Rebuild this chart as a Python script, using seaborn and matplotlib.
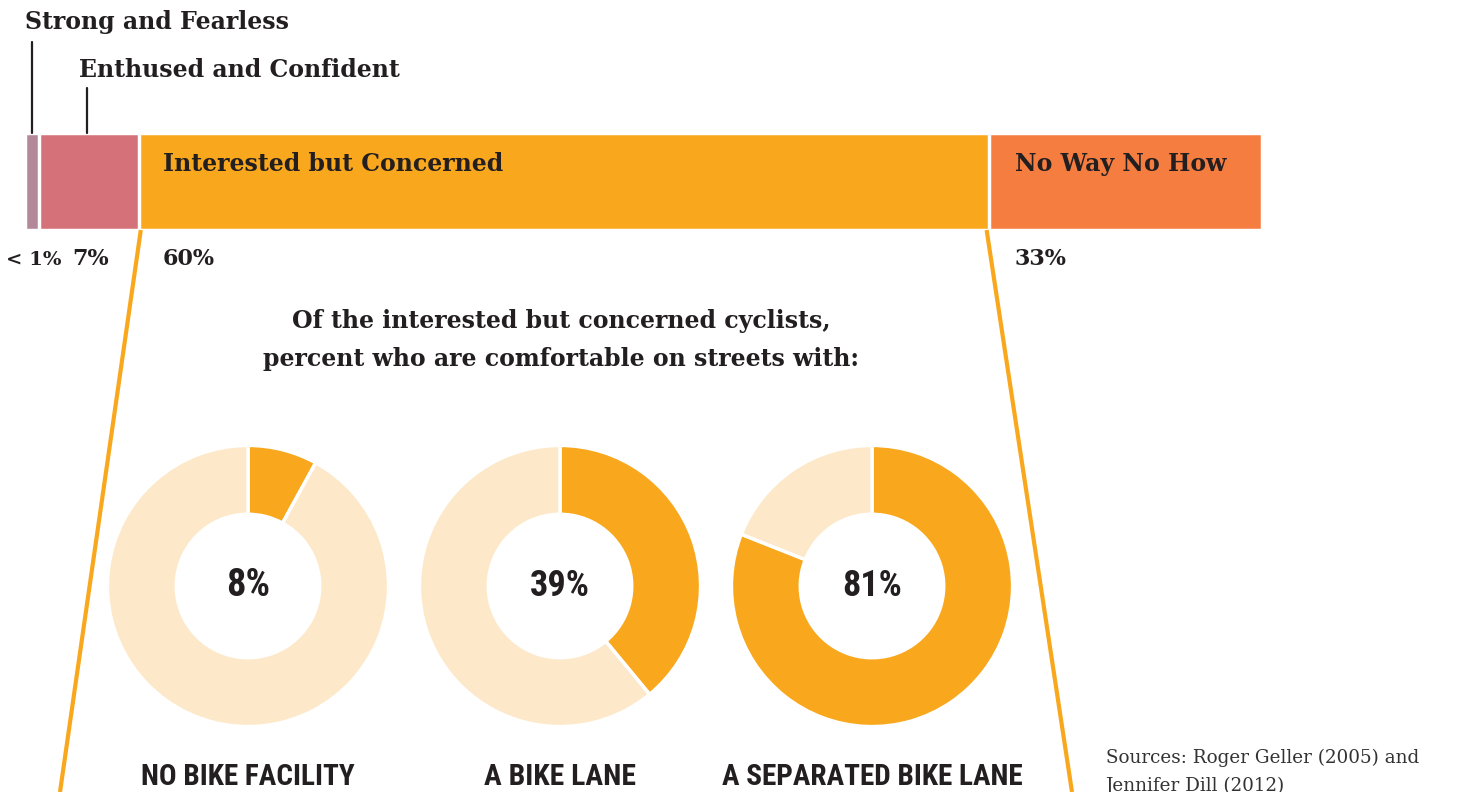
import numpy as np
import pandas as pd
import matplotlib
matplotlib.use("Agg")
import matplotlib.pyplot as plt
import seaborn as sns

# four cyclist types, top bar
groups = ["Strong and Fearless", "Enthused and Confident",
          "Interested but Concerned", "No Way No How"]
group_pct = ["< 1%", "7%", "60%", "33%"]
# widths as drawn in the graphic (the source is not to scale)
bar_share = [1.1, 8.1, 68.7, 22.1]
group_colors = ["#B38899", "#D47179", "#F9A81E", "#F57D3F"]

# comfort of the interested-but-concerned group
facilities = ["NO BIKE FACILITY", "A BIKE LANE", "A SEPARATED BIKE LANE"]
comfortable = [8, 39, 81]

ORANGE = "#F9A81E"
LIGHT = "#FDE9C9"
INK = "#231F20"
W, H = 1462, 792

sns.set_theme(style="white")
plt.rcParams["font.family"] = ["DejaVu Serif"]
cond = ["Roboto Condensed", "Liberation Sans Narrow", "DejaVu Sans"]

fig = plt.figure(figsize=(W / 100, H / 100), dpi=100)


def px_axes(x0, y0, x1, y1):
    return fig.add_axes([x0 / W, 1 - y1 / H, (x1 - x0) / W, (y1 - y0) / H])


bg = px_axes(0, 0, W, H)
bg.set_xlim(0, W)
bg.set_ylim(H, 0)
bg.axis("off")
bg.set_zorder(5)

# stacked bar: cumulative bars, longest first so shorter ones sit on top
bar_l, bar_r, bar_t, bar_b = 25, 1262, 133, 230
bax = px_axes(bar_l, bar_t, bar_r, bar_b)
cum = np.cumsum(bar_share)
df = pd.DataFrame({"row": [""] * len(groups), "end": cum, "group": groups})
sns.barplot(data=df, x="end", y="row", hue="group", hue_order=groups[::-1],
            palette=dict(zip(groups, group_colors)), dodge=False, width=1,
            saturation=1, edgecolor="white", linewidth=2.5, legend=False, ax=bax)
bax.set_xlim(0, cum[-1])
bax.set_ylim(0.5, -0.5)
bax.axis("off")

seg_left = bar_l + (np.r_[0, cum[:-1]] / cum[-1]) * (bar_r - bar_l)

# labels above / inside / below the bar
hdr = dict(fontsize=17, fontweight="bold", color=INK, va="center")
bg.text(25, 22, groups[0], **hdr)
bg.text(79, 70, groups[1], **hdr)
bg.plot([32, 32], [42, bar_t], color=INK, lw=1.6)
bg.plot([87, 87], [88, bar_t], color=INK, lw=1.6)
bg.text(seg_left[2] + 24, 164, groups[2], **hdr)
bg.text(seg_left[3] + 26, 164, groups[3], **hdr)

pct = dict(fontsize=16, fontweight="bold", color=INK, va="center")
bg.text(62, 260, group_pct[0], ha="right", **dict(pct, fontsize=14))
bg.text(72, 259, group_pct[1], **pct)
bg.text(seg_left[2] + 24, 259, group_pct[2], **pct)
bg.text(seg_left[3] + 26, 259, group_pct[3], **pct)

# funnel lines from the orange segment
bg.plot([seg_left[2] + 2, 60], [bar_b, H], color=ORANGE, lw=3, solid_capstyle="butt")
bg.plot([seg_left[3] - 2, 1072], [bar_b, H], color=ORANGE, lw=3, solid_capstyle="butt")

bg.text(561, 340, "Of the interested but concerned cyclists,\npercent who are comfortable on streets with:",
        fontsize=17, fontweight="bold", color=INK, ha="center", va="center",
        linespacing=1.75)

# donuts
centers = [248, 560, 872]
cy, r = 586, 142
mid_w = [44, 60, 60]
name_w = [214, 152, 302]
fitted = []
for cx, v, name, mw, nw in zip(centers, comfortable, facilities, mid_w, name_w):
    ax = px_axes(cx - r, cy - r, cx + r, cy + r)
    ax.pie([v, 100 - v], colors=[ORANGE, LIGHT], startangle=90, counterclock=False,
           radius=1, wedgeprops=dict(width=0.49, edgecolor="white", linewidth=2.5))
    ax.set_xlim(-1.01, 1.01)
    ax.set_ylim(-1.01, 1.01)
    ax.set_aspect("equal")
    ax.axis("off")
    t1 = ax.text(0, 0, f"{v}%", family=cond, stretch="condensed", fontsize=24,
                 fontweight="bold", color=INK, ha="center", va="center")
    t2 = bg.text(cx, 763, name, family=cond, stretch="condensed", fontsize=26,
                 fontweight="bold", color=INK, ha="center", va="top")
    fitted += [(t1, mw), (t2, nw)]

# size the condensed labels to about the widths they take in the original
fig.canvas.draw()
rend = fig.canvas.get_renderer()
for t, target in fitted:
    w = t.get_window_extent(rend).width
    t.set_fontsize(t.get_fontsize() * target / w)

bg.text(1106, 749, "Sources: Roger Geller (2005) and\nJennifer Dill (2012)",
        fontsize=13.2, color="#333333", va="top", linespacing=1.7)

fig.savefig("out.png", dpi=100)
